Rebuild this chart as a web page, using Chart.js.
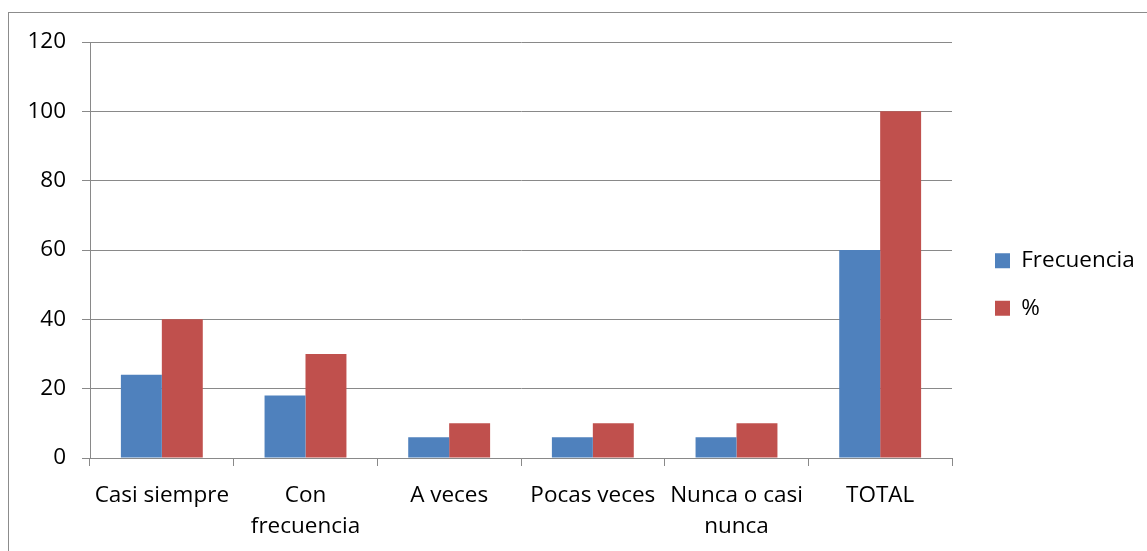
<!DOCTYPE html>
<html>
<head>
<meta charset="utf-8">
<script src="https://cdn.jsdelivr.net/npm/chart.js@4.4.0/dist/chart.umd.min.js"></script>
<style>
  html, body { margin: 0; padding: 0; background: #fff; overflow: hidden; }
  #marco { position: absolute; left: 8px; top: 12px; width: 1200px; height: 600px; border: 1px solid #8c8c8c; }
  #wrap { position: absolute; left: 0; top: 0; width: 1147px; height: 551px; }
</style>
</head>
<body>
<div id="marco"></div>
<div id="wrap"><canvas id="grafico-barra" width="1147" height="551"></canvas></div>
<script>
const categorias = ['Casi siempre', ['Con', 'frecuencia'], 'A veces', 'Pocas veces', ['Nunca o casi', 'nunca'], 'TOTAL'];
const frecuencia = [24, 18, 6, 6, 6, 60];
const porcentaje = [40, 30, 10, 10, 10, 100];
const ticksY = [0, 20, 40, 60, 80, 100, 120];

const gris = '#898989';
const fuente = { family: 'Open Sans', size: 22.5 };

// ancho fijo de la leyenda y desplazamiento a la posición del original
const moverLeyenda = {
  id: 'moverLeyenda',
  beforeInit(chart) {
    const fitOriginal = chart.legend.fit;
    chart.legend.fit = function () {
      fitOriginal.call(this);
      this.width = 195;
    };
  },
  afterLayout(chart) {
    chart.legend.left += 18;
    chart.legend.top -= 12;
    chart.legend.bottom -= 12;
  }
};

new Chart(document.getElementById('grafico-barra').getContext('2d'), {
  type: 'bar',
  data: {
    labels: categorias,
    datasets: [{
      label: 'Frecuencia',
      data: frecuencia,
      backgroundColor: '#4F81BD',
      borderWidth: 0
    }, {
      label: '%',
      data: porcentaje,
      backgroundColor: '#C0504D',
      borderWidth: 0
    }]
  },
  options: {
    responsive: false,
    animation: false,
    datasets: {
      bar: { categoryPercentage: 0.57, barPercentage: 1 }
    },
    layout: {
      padding: { left: 8, top: 42, right: 0, bottom: 0 }
    },
    scales: {
      x: {
        grid: { drawOnChartArea: false, drawTicks: true, tickLength: 8, color: gris },
        border: { color: gris, width: 1 },
        ticks: { color: '#000', font: { ...fuente, lineHeight: 1.38 }, padding: 14, maxRotation: 0, autoSkip: false },
        afterFit(scale) { scale.height = 93; }
      },
      y: {
        min: 0,
        max: 120,
        afterBuildTicks(scale) { scale.ticks = ticksY.map(v => ({ value: v })); },
        grid: { color: gris, tickLength: 8 },
        border: { color: gris, width: 1 },
        ticks: { color: '#000', font: fuente, padding: 16 },
        afterFit(scale) { scale.width = 82; }
      }
    },
    plugins: {
      legend: {
        position: 'right',
        align: 'center',
        labels: {
          color: '#000',
          font: fuente,
          boxWidth: 15,
          boxHeight: 15,
          padding: 25
        }
      },
      tooltip: { enabled: false }
    }
  },
  plugins: [moverLeyenda]
});
</script>
</body>
</html>
